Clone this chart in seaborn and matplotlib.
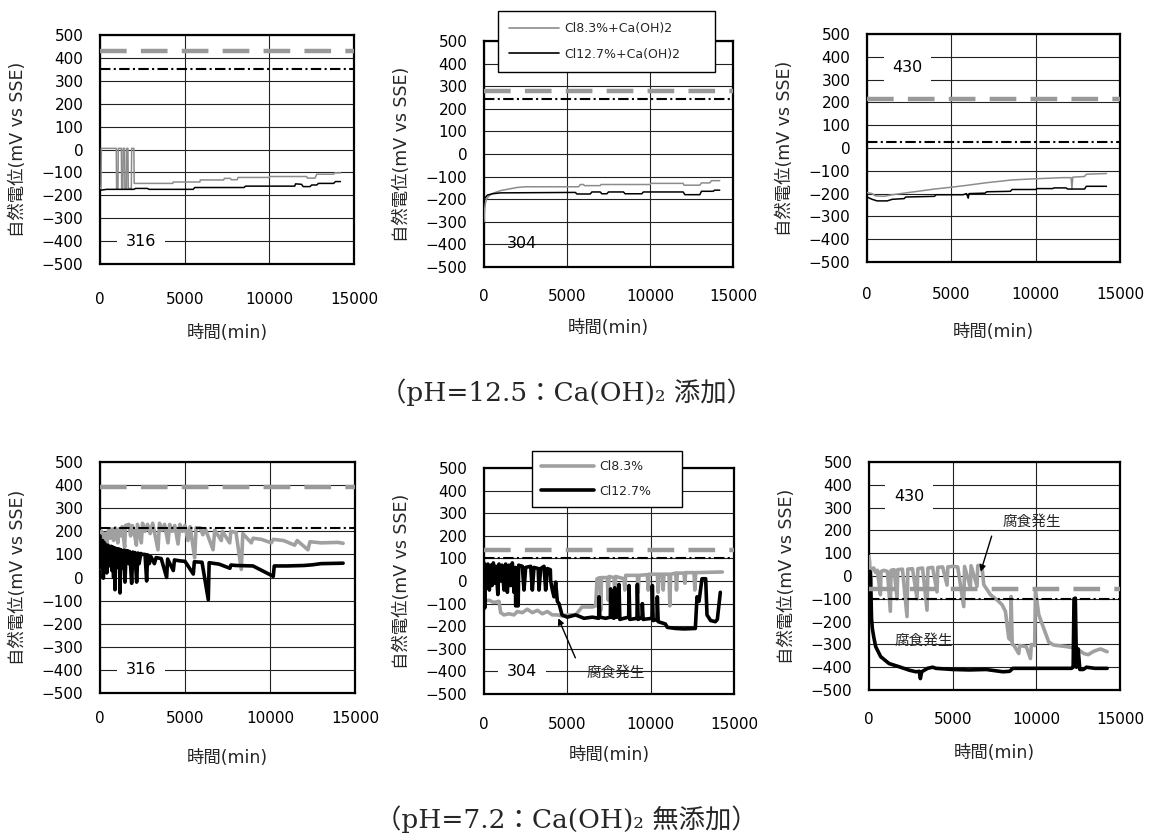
import matplotlib
matplotlib.use("Agg")
import matplotlib.pyplot as plt
import seaborn as sns
from matplotlib.lines import Line2D

sns.set_theme(style="white")
plt.rcParams["font.family"] = ["DejaVu Sans", "Noto Sans CJK JP"]
plt.rcParams["axes.unicode_minus"] = True

# ---------------- data ----------------
x_ticks = [0, 5000, 10000, 15000]
y_ticks = list(range(-500, 501, 100))
steel = ["316", "304", "430", "316", "304", "430"]
x_label = "時間(min)"
y_label = "自然電位(mV vs SSE)"
legend_top = ["Cl8.3%+Ca(OH)2", "Cl12.7%+Ca(OH)2"]
legend_bottom = ["Cl8.3%", "Cl12.7%"]
caption_top = "（pH=12.5：Ca(OH)₂ 添加）"
caption_bottom = "（pH=7.2：Ca(OH)₂ 無添加）"
corrosion = "腐食発生"

# reference potentials per panel (gray dashed, black dash-dot)
ref_dashed = [430, 280, 215, 390, 135, -55]
ref_dashdot = [350, 245, 25, 215, 100, -100]

# panel 1: 316, pH 12.5
p1_gray = [(0, -170), (60, -170), (80, 5), (960, 5), (980, -170), (1060, -170), (1080, 5),
           (1260, 5), (1280, -170), (1350, -170), (1370, 5), (1450, 5), (1470, -170),
           (1560, -170), (1580, 5), (1650, 5), (1670, -170), (1850, -170), (1870, 5),
           (2000, 5), (2020, -148), (4300, -148), (4320, -142), (5900, -142), (5920, -133),
           (7300, -133), (7350, -126), (7700, -126), (7750, -132), (8100, -132), (8150, -122),
           (10000, -122), (10050, -118), (12200, -118), (12250, -125), (12700, -125),
           (12800, -108), (13800, -108), (13850, -102), (14200, -102)]
p1_black = [(0, -178), (300, -175), (400, -174), (2000, -174), (2100, -170), (2800, -170),
            (2900, -174), (5500, -174), (5600, -166), (8500, -166), (8600, -160), (11500, -160),
            (11550, -150), (11900, -152), (12000, -162), (12400, -162), (12500, -155),
            (12800, -155), (12900, -148), (13800, -148), (13900, -140), (14200, -140)]

# panel 2: 304, pH 12.5
p2_gray = [(0, -300), (30, -250), (80, -220), (150, -200), (300, -185), (500, -175),
           (1000, -162), (1500, -155), (2000, -148), (2500, -145), (5700, -145), (5800, -135),
           (6000, -135), (6050, -140), (7000, -140), (7050, -135), (10000, -135), (10050, -130),
           (12000, -130), (12050, -138), (13000, -138), (13100, -128), (13600, -128),
           (13700, -118), (14200, -118)]
p2_black = [(0, -200), (200, -182), (500, -176), (1000, -172), (5500, -170), (5600, -177),
            (6400, -177), (6500, -168), (7000, -168), (7100, -176), (7400, -176), (7500, -168),
            (8400, -168), (8500, -176), (9500, -176), (9600, -168), (12000, -168),
            (12100, -180), (13000, -180), (13100, -165), (13800, -165), (13900, -160),
            (14200, -160)]

# panel 3: 430, pH 12.5
p3_gray = [(0, -195), (300, -200), (500, -210), (1000, -212), (1500, -205), (2000, -200),
           (2500, -195), (3000, -190), (3500, -185), (4000, -180), (5000, -172), (6000, -163),
           (7000, -153), (8000, -145), (8600, -140), (10000, -135), (11600, -130),
           (12100, -130), (12150, -180), (12200, -128), (12900, -125), (13000, -115),
           (14200, -112)]
p3_black = [(0, -215), (300, -225), (600, -232), (1200, -232), (1500, -225), (2200, -222),
            (2300, -215), (4000, -212), (4100, -205), (5700, -205), (5900, -200), (6000, -220),
            (6050, -200), (7000, -198), (7100, -192), (8500, -190), (8600, -182), (10000, -182),
            (10100, -178), (11000, -178), (11100, -175), (11800, -175), (11900, -180),
            (12900, -180), (13000, -168), (14200, -168)]

# panel 4: 316, pH 7.2
p4_gray = [(0, 40), (30, 185), (100, 200), (150, 120), (200, 160), (300, 190), (400, 150),
           (500, 205), (600, 170), (700, 210), (800, 160), (900, 215), (1050, 150), (1100, 210),
           (1200, 180), (1300, 220), (1450, 130), (1500, 225), (1700, 230), (1800, 180),
           (1900, 225), (2000, 200), (2140, 140), (2200, 230), (2430, 150), (2500, 235),
           (2650, 200), (2800, 230), (2950, 190), (3100, 235), (3410, 120), (3500, 235),
           (3650, 205), (3800, 230), (4000, 150), (4100, 230), (4250, 200), (4400, 225),
           (4590, 145), (4700, 230), (4850, 200), (5000, 225), (5175, 160), (5300, 220),
           (5570, 85), (5650, 215), (5900, 215), (6050, 185), (6200, 210), (6650, 120),
           (6750, 205), (7135, 160), (7200, 200), (7630, 150), (7700, 200), (8000, 195),
           (8310, 35), (8400, 190), (8900, 150), (9000, 170), (9500, 165), (10080, 150),
           (10200, 165), (10800, 160), (11450, 140), (11600, 160), (12230, 120), (12350, 155),
           (13000, 150), (14000, 152), (14300, 148)]
p4_black = [(0, 180), (30, 60), (60, 150), (100, 40), (150, 160), (196, -3), (260, 150),
            (300, 70), (330, 140), (400, 20), (470, 140), (520, 80), (550, 130), (600, 50),
            (650, 135), (700, 30), (750, 132), (800, 0), (840, 128), (882, -53), (930, 126),
            (1000, 60), (1060, 124), (1120, 40), (1150, 122), (1176, -67), (1230, 120),
            (1320, 40), (1400, 118), (1470, -20), (1540, 116), (1600, 70), (1650, 115),
            (1700, 60), (1750, 112), (1862, -25), (1930, 110), (2000, 50), (2050, 108),
            (2156, -20), (2230, 106), (2300, 60), (2400, 104), (2500, 100), (2650, 100),
            (2744, -15), (2800, 98), (2900, 60), (3000, 90), (3200, 60), (3300, 86), (3600, 82),
            (3920, 0), (3980, 80), (4312, 30), (4380, 76), (4700, 72), (5000, 70), (5488, 15),
            (5550, 68), (6000, 66), (6370, -96), (6420, 64), (7000, 58), (7644, 40), (7700, 54),
            (8000, 52), (9000, 50), (10192, 5), (10250, 50), (11000, 50), (12000, 52),
            (12500, 55), (13000, 60), (14300, 62)]

# panel 5: 304, pH 7.2
p5_gray = [(0, -90), (300, -85), (600, -95), (900, -90), (1000, -140), (1200, -150),
           (1500, -145), (1800, -150), (2000, -135), (2300, -140), (2600, -125), (2900, -140),
           (3200, -130), (3500, -145), (3800, -135), (4100, -150), (4400, -150), (4700, -155),
           (5000, -150), (5500, -150), (5880, -115), (6500, -115), (6700, -110), (6780, 10),
           (6950, 15), (7000, -130), (7050, 15), (7400, 15), (7450, -85), (7500, 20), (7800, 15),
           (7850, -70), (7900, 20), (8400, 10), (8450, -40), (8500, 25), (9200, 25), (9250, -50),
           (9300, 25), (9800, 28), (9850, -40), (9900, 30), (10400, 30), (10450, -50),
           (10500, 30), (10700, 30), (10750, -40), (10800, 30), (11100, 30), (11150, -110),
           (11200, 30), (11500, 35), (11550, -40), (11600, 35), (12000, 35), (12050, -10),
           (12100, 37), (12600, 37), (12650, -40), (12700, 37), (14300, 40)]
p5_black = [(0, 80), (40, -120), (80, 70), (150, -30), (230, 75), (320, -40), (400, 70),
            (480, -20), (560, 80), (650, -10), (720, 65), (830, -60), (900, 75), (1000, 0),
            (1080, 70), (1200, -40), (1300, 75), (1400, -50), (1500, 70), (1600, -20),
            (1700, 80), (1800, -50), (1880, 60), (1900, -110), (2050, -110), (2080, 70),
            (2300, 65), (2400, -40), (2500, 60), (2800, 65), (2900, -40), (3000, 60),
            (3250, 55), (3300, -40), (3400, 55), (3600, 65), (3700, -40), (3800, 55),
            (3980, 50), (4000, 0), (4100, -40), (4200, -70), (4300, -5), (4400, -90),
            (4500, -100), (4680, -150), (5000, -160), (5500, -150), (6000, -165), (6500, -160),
            (6880, -165), (6900, -70), (6950, -160), (7300, -165), (7580, -160), (7600, -35),
            (7650, -160), (7800, -165), (7850, -30), (7900, -160), (8080, -160), (8100, -15),
            (8150, -170), (8400, -165), (8680, -160), (8700, -20), (8750, -170), (9180, -165),
            (9200, -15), (9250, -170), (9480, -160), (9500, -100), (9550, -170), (10080, -165),
            (10100, -20), (10150, -175), (10380, -170), (10400, -70), (10450, -180),
            (10880, -190), (11000, -205), (11500, -210), (12000, -212), (12680, -210),
            (12780, -70), (12900, -90), (13080, 10), (13300, 10), (13380, -150), (13600, -175),
            (13880, -180), (14000, -170), (14180, -50)]

# panel 6: 430, pH 7.2
p6_gray = [(0, 85), (40, 60), (80, -38), (120, 30), (280, 35), (400, 15), (500, 25), (680, -82),
           (720, 20), (900, 25), (1100, 20), (1275, -155), (1320, 25), (1500, 28), (1674, -100),
           (1720, 28), (2000, 30), (2272, -178), (2320, 30), (2600, 32), (2870, -100),
           (2920, 32), (3200, 35), (3468, -150), (3520, 35), (3800, 38), (4066, -70),
           (4110, 38), (4400, 40), (4664, -40), (4710, 40), (5000, 42), (5300, 40),
           (5661, -134), (5710, 42), (6060, -50), (6100, 45), (6458, -45), (6500, 45),
           (6660, 48), (6760, 35), (6860, -38), (7255, -82), (7654, -105), (7953, -126),
           (8153, -155), (8352, -273), (8450, -280), (8492, -90), (8560, -300), (8651, -303),
           (8950, -340), (9000, -305), (9400, -310), (9648, -362), (9700, -300), (9900, -305),
           (9947, -60), (10146, -170), (10445, -230), (10744, -290), (11043, -303),
           (11840, -310), (12438, -318), (12837, -340), (13100, -345), (13435, -330),
           (13834, -320), (14233, -332)]
p6_black = [(0, 10), (60, 20), (100, -10), (150, -185), (200, -230), (280, -266), (400, -310),
            (700, -354), (1200, -384), (1800, -398), (2400, -413), (2800, -420), (3000, -418),
            (3070, -450), (3150, -420), (3500, -405), (3800, -400), (4000, -405), (5000, -410),
            (6000, -412), (7000, -410), (8000, -420), (8400, -418), (8600, -405), (10000, -405),
            (12100, -405), (12200, -400), (12250, -100), (12330, -97), (12400, -400),
            (12500, -320), (12600, -410), (12800, -410), (13000, -400), (13500, -405),
            (14233, -405)]

series = [(p1_gray, p1_black), (p2_gray, p2_black), (p3_gray, p3_black),
          (p4_gray, p4_black), (p5_gray, p5_black), (p6_gray, p6_black)]

# ---------------- layout / style ----------------
W, H = 1151, 836
rects = [(100, 35, 354, 264), (484, 41, 733, 267), (867, 34, 1120, 262),
         (100, 462, 355, 693), (484, 468, 734, 694), (869, 462, 1120, 690)]
xtick_gap = [34, 28, 31, 24, 29, 28]
xlabel_gap = [69, 61, 70, 65, 61, 63]
label_pos = [(2400, -400), (2300, -395), (2400, 355), (2400, -400), (2300, -400), (2400, 350)]
label_box = [True, False, True, True, True, True]

GRAY_TOP = "#8c8c8c"
GRAY_BOT = "#a0a0a0"
DASH_GRAY = "#999999"

fig = plt.figure(figsize=(W / 100, H / 100), dpi=100)
fig.patch.set_facecolor("white")
PX = 72 / 100  # points per pixel

axes = []
for i, (l, t, r, b) in enumerate(rects):
    ax = fig.add_axes([l / W, 1 - b / H, (r - l) / W, (b - t) / H])
    axes.append(ax)
    bottom_row = i >= 3
    g, k = series[i]
    lw = 2.6 if bottom_row else 1.1
    gcol = GRAY_BOT if bottom_row else GRAY_TOP
    sns.lineplot(x=[p[0] for p in g], y=[p[1] for p in g], ax=ax, color=gcol, linewidth=lw,
                 sort=False, estimator=None, legend=False, zorder=3)
    sns.lineplot(x=[p[0] for p in k], y=[p[1] for p in k], ax=ax, color="black", linewidth=lw,
                 sort=False, estimator=None, legend=False, zorder=4)
    ax.axhline(ref_dashed[i], color=DASH_GRAY, lw=3.2, dashes=(6, 3.2), zorder=5)
    ax.axhline(ref_dashdot[i], color="black", lw=1.5, dashes=(5, 1.6, 1, 1.6), zorder=5)

    ax.set_xlim(0, 15000)
    ax.set_ylim(-500, 500)
    ax.set_xticks(x_ticks)
    ax.set_yticks(y_ticks)
    ax.set_xticklabels([str(v) for v in x_ticks])
    ax.set_yticklabels([str(v).replace("-", "\u2212") for v in y_ticks])
    ax.grid(True, color="#222222", lw=0.8)
    ax.set_axisbelow(True)
    for s in ax.spines.values():
        s.set_color("black")
        s.set_linewidth(1.6)
    ax.tick_params(axis="both", length=0, labelsize=11, colors="black")
    ax.tick_params(axis="y", pad=12)
    ax.tick_params(axis="x", pad=(xtick_gap[i] - 6) * PX)
    axw, axh = r - l, b - t
    ax.set_xlabel(x_label, fontsize=12.5, va="center")
    ax.xaxis.set_label_coords(0.5, -xlabel_gap[i] / axh)
    ax.set_ylabel(y_label, fontsize=12.5, va="center")
    ax.yaxis.set_label_coords(-82 / axw, 0.5)

    bbox = dict(boxstyle="square,pad=0.55", fc="white", ec="none") if label_box[i] else None
    ax.text(label_pos[i][0], label_pos[i][1], steel[i], ha="center", va="center",
            fontsize=11.5, color="black", bbox=bbox, zorder=6)

# legends
LH = 0.01
h_top = [Line2D([], [], color=GRAY_TOP, lw=1.2), Line2D([], [], color="black", lw=1.2)]
leg1 = fig.legend(h_top, legend_top, loc="upper left",
                  bbox_to_anchor=(498 / W, 1 - 11 / H - LH, (715 - 498) / W, LH),
                  mode="expand", fontsize=9, frameon=True, fancybox=False,
                  edgecolor="black", framealpha=1, handlelength=4.0, handletextpad=0.4,
                  borderpad=0.9, labelspacing=1.0, borderaxespad=0)
leg1.get_frame().set_linewidth(1.0)
h_bot = [Line2D([], [], color=GRAY_BOT, lw=2.6), Line2D([], [], color="black", lw=2.6)]
leg2 = fig.legend(h_bot, legend_bottom, loc="upper left",
                  bbox_to_anchor=(532 / W, 1 - 451 / H - LH, (682 - 532) / W, LH),
                  mode="expand", fontsize=9, frameon=True, fancybox=False,
                  edgecolor="black", framealpha=1, handlelength=4.2, handletextpad=0.4,
                  borderpad=0.75, labelspacing=0.9, borderaxespad=0)
leg2.get_frame().set_linewidth(1.0)

# corrosion annotations
arrow = dict(arrowstyle="-|>", color="black", lw=1.0, mutation_scale=9, shrinkA=0, shrinkB=0)
ax5, ax6 = axes[4], axes[5]
ax5.text(7900, -405, corrosion, ha="center", va="center", fontsize=10.5, zorder=7)
ax5.annotate("", xy=(4460, -165), xytext=(5480, -340), arrowprops=arrow, zorder=7)
ax6.text(9740, 238, corrosion, ha="center", va="center", fontsize=10.5, zorder=7)
ax6.annotate("", xy=(6675, 19), xytext=(7330, 175), arrowprops=arrow, zorder=7)
ax6.text(3260, -281, corrosion, ha="center", va="center", fontsize=10.5, zorder=7)

cap_font = ["DejaVu Serif", "Noto Sans CJK JP"]
fig.text(566 / W, 1 - 392 / H, caption_top, ha="center", va="center", fontsize=19,
         family=cap_font)
fig.text(566 / W, 1 - 819 / H, caption_bottom, ha="center", va="center", fontsize=19,
         family=cap_font)

fig.savefig("out.png", dpi=100, facecolor="white")
